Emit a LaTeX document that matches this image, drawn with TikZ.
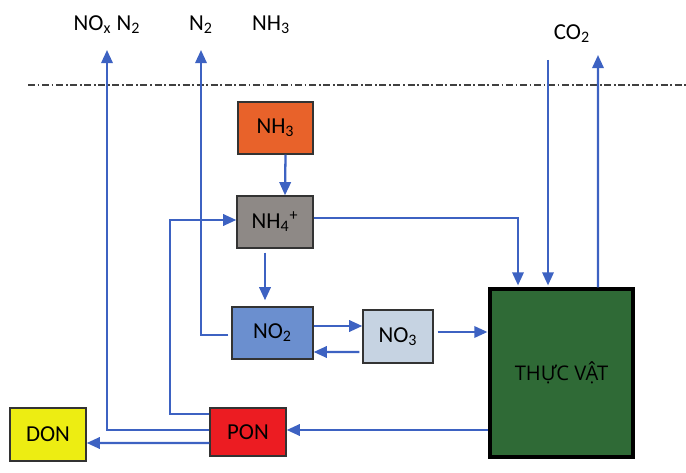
\documentclass[tikz,border=0pt]{standalone}
\usepackage{fontspec}
\setmainfont{Carlito}
\newfontfamily\vnfont{Open Sans}
\usetikzlibrary{arrows.meta,calc}
\definecolor{linec}{HTML}{3D62C2}
\definecolor{orangec}{HTML}{E8622A}
\definecolor{grayc}{HTML}{8E8986}
\definecolor{blueb}{HTML}{6B8FCF}
\definecolor{lightb}{HTML}{C6D3E2}
\definecolor{greenc}{HTML}{2F6A36}
\definecolor{redc}{HTML}{EC1C22}
\definecolor{yellowc}{HTML}{EDED12}
\tikzset{
  flow/.style={draw=linec, line width=1.3pt, -{Triangle[length=7.5pt,width=6.5pt]}},
  box/.style={draw=black!80, line width=0.8pt, inner sep=0pt, font=\fontsize{13}{15}\selectfont},
  lab/.style={inner sep=0pt, font=\fontsize{13}{15}\selectfont}
}
\begin{document}
\begin{tikzpicture}[x=0.02cm,y=-0.02cm]
\useasboundingbox (0,0) rectangle (686,473);
% dash-dot line
\coordinate (dl) at (28,85);
\coordinate (dr) at (686,85);
\draw[black!75, line width=0.8pt, dash pattern=on 4pt off 1.5pt on 1pt off 1.5pt] (dl) -- (dr);
% boxes
\node[box, fill=orangec, minimum width=1.50cm, minimum height=1.04cm] (nh3) at (275.5,128) {NH\textsubscript{3}};
\node[box, fill=grayc, minimum width=1.52cm, minimum height=1.04cm] (nh4) at (275,222) {NH\textsubscript{4}\textsuperscript{+}};
\node[box, fill=blueb, minimum width=1.62cm, minimum height=1.04cm] (no2) at (272.5,333) {NO\textsubscript{2}};
\node[box, fill=lightb, minimum width=1.40cm, minimum height=1.06cm] (no3) at (398,336.5) {NO\textsubscript{3}};
\node[box, draw=black, line width=1.8pt, fill=greenc, minimum width=2.86cm, minimum height=3.36cm, font=\vnfont\fontsize{11.5}{14}\selectfont] (tv) at (561.5,373) {THỰC VẬT};
\node[box, fill=redc, minimum width=1.52cm, minimum height=0.96cm] (pon) at (248,432) {PON};
\node[box, fill=yellowc, minimum width=1.52cm, minimum height=1.06cm] (don) at (48,434.5) {DON};
% labels
\node[lab] (lnox) at (107,25) {NO\textsubscript{x} N\textsubscript{2}};
\node[lab] (ln2) at (201,25) {N\textsubscript{2}};
\node[lab] (lnh3) at (271,25) {NH\textsubscript{3}};
\node[lab] (lco2) at (572,34) {CO\textsubscript{2}};
% coordinates
\coordinate (noxtop) at (107,50);
\coordinate (n2top) at (201,50);
\coordinate (co2top) at (598,55);
\coordinate (co2in) at (548,60);
\coordinate (ponbend) at (170,220);
% connectors
\draw[flow] ($(nh3.south)+(10,0)$) -- ($(nh4.north)+(10,0)$);
\draw[flow] ($(nh4.south)+(-10,4)$) -- ($(no2.north)+(-7.5,-6)$);
\draw[flow] ($(nh4.east)+(0,-4)$) -| ($(tv.north)+(-43.5,-2)$);
\draw[flow] (co2in) -- ($(tv.north)+(-13.5,-2)$);
\draw[flow] ($(tv.north)+(36.5,0)$) -- (co2top);
\draw[flow] ($(no2.east)+(0,-7)$) -- ($(no3.west)+(0,-10.5)$);
\draw[flow] ($(no3.west)+(-3,15.5)$) -- ($(no2.east)+(0,19)$);
\draw[flow] ($(no3.east)+(4,-4.5)$) -- ($(tv.west)+(-1,-41)$);
\draw[flow] ($(tv.west)+(0,57)$) -- ($(pon.east)+(0,-2)$);
\draw[flow] ($(pon.west)+(0,11)$) -- ($(don.east)+(0,8.5)$);
\draw[flow] ($(pon.west)+(0,-2)$) -| (noxtop);
\draw[flow] ($(pon.west)+(0,-18)$) -| (ponbend) -- ($(nh4.west)+(0,-2)$);
\draw[flow] ($(no2.west)+(-3,2)$) -| (n2top);
\end{tikzpicture}
\end{document}
